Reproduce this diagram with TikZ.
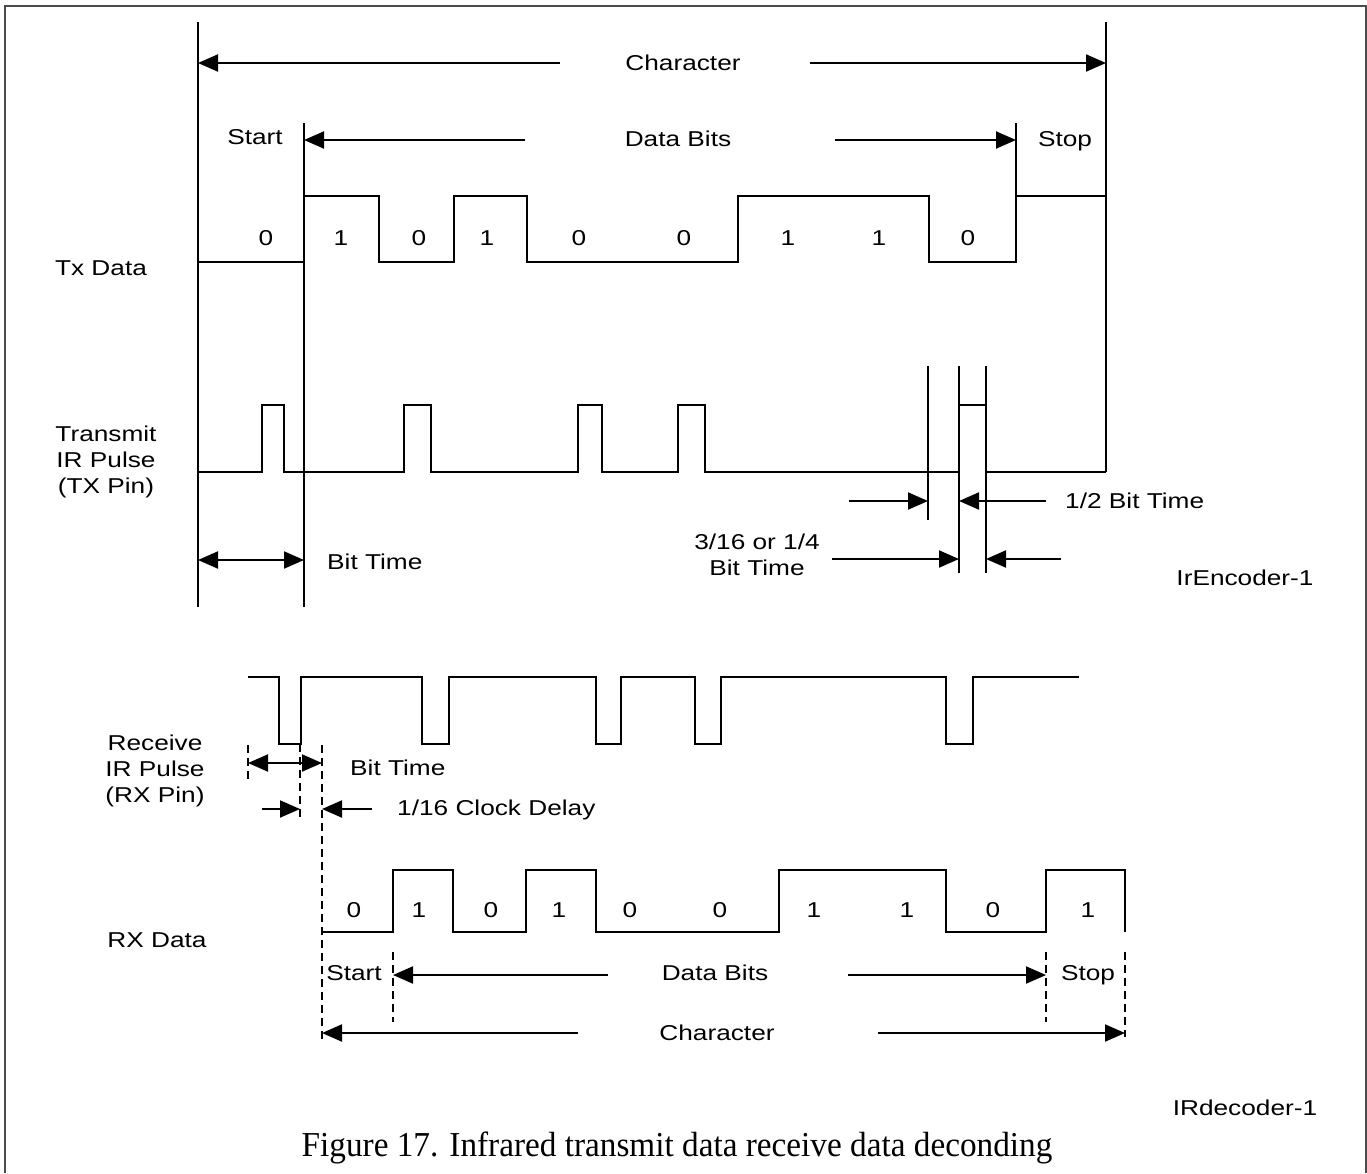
\documentclass[tikz,border=0pt]{standalone}
\usepackage{fontspec}
\setmainfont{Liberation Sans}[FakeStretch=1.22]
\newfontfamily\capfont{Liberation Serif}[FakeStretch=0.95]
\usetikzlibrary{arrows.meta}
\begin{document}
\begin{tikzpicture}[x=1pt,y=-1pt,
  wave/.style={line width=2.2pt,line join=miter},
  vline/.style={line width=2.4pt},
  dimline/.style={line width=2pt},
  dline/.style={line width=2pt,dash pattern=on 8pt off 5pt},
  lbl/.style={inner sep=0pt,font=\fontsize{21.5}{25}\selectfont},
  >={Triangle[length=20pt,width=17pt]}]
\useasboundingbox (0,0) rectangle (1367,1173);
% frame
\draw[line width=1.5pt,color=black!70] (5,1173)--(5,6)--(1366,6)--(1366,1173);

% ---------- Transmit part ----------
\draw[vline] (198,22)--(198,607);
\draw[vline] (304,123)--(304,607);
\draw[vline] (1106,22)--(1106,472);
\draw[vline] (1016,123)--(1016,262);

\node[lbl] (charT) at (683,63) {Character};
\draw[dimline,->] (560,63)--(198,63);
\draw[dimline,->] (810,63)--(1106,63);

\node[lbl] (startT) at (255,137) {Start};
\node[lbl] (dbT) at (678,139) {Data Bits};
\node[lbl] (stopT) at (1065,141) {Stop};
\draw[dimline,->] (525,140)--(304,140);
\draw[dimline,->] (835,140)--(1016,140);

% Tx data
\draw[wave] (198,262)--(304,262)--(304,196)--(379,196)--(379,262)--(454,262)--(454,196)--(527,196)--(527,262)--(738,262)--(738,196)--(929,196)--(929,262)--(1016,262)--(1016,196)--(1106,196);
\foreach \x/\b [count=\i] in {266/0,341/1,419/0,487/1,579/0,684/0,788/1,879/1,968/0}
  \node[lbl] (tb\i) at (\x,238) {\b};
\node[lbl] (txd) at (101,268) {Tx Data};

% Transmit IR pulse
\draw[wave] (198,472)--(262,472)--(262,405)--(284,405)--(284,472)--(404,472)--(404,405)--(431,405)--(431,472)--(578,472)--(578,405)--(602,405)--(602,472)--(678,472)--(678,405)--(705,405)--(705,472)--(959,472);
\draw[wave] (959,405)--(986,405);
\draw[wave] (986,472)--(1106,472);
\draw[dimline] (928,366)--(928,520);
\draw[vline] (959,366)--(959,573);
\draw[vline] (986,366)--(986,573);
\node[lbl,align=center] (txir) at (106,462) {Transmit\\[1pt]IR Pulse\\[1pt](TX Pin)};

\draw[dimline,<->] (198,560)--(304,560);
\node[lbl,anchor=west] (btT) at (327,562) {Bit Time};

\draw[dimline,->] (849,501)--(928,501);
\draw[dimline,->] (1046,501)--(959,501);
\node[lbl,anchor=west] (half) at (1065,501) {1/2 Bit Time};

\draw[dimline,->] (832,559)--(959,559);
\draw[dimline,->] (1061,559)--(986,559);
\node[lbl,align=center] (tsx) at (757,555) {3/16 or 1/4\\[1pt]Bit Time};

\node[lbl] (irenc) at (1245,578) {IrEncoder-1};

% ---------- Receive part ----------
\draw[wave] (248,677)--(279,677)--(279,744)--(301,744)--(301,677)--(422,677)--(422,744)--(449,744)--(449,677)--(596,677)--(596,744)--(621,744)--(621,677)--(695,677)--(695,744)--(721,744)--(721,677)--(946,677)--(946,744)--(973,744)--(973,677)--(1079,677);
\node[lbl,align=center] (rxir) at (155,771) {Receive\\[1pt]IR Pulse\\[1pt](RX Pin)};

\draw[dline] (248,745)--(248,782);
\draw[dline] (300,744)--(300,818);
\draw[dline] (322,745)--(322,1043);
\draw[dimline,<->] (248,763)--(322,763);
\node[lbl,anchor=west] (btR) at (350,768) {Bit Time};
\draw[dimline,->] (262,809)--(300,809);
\draw[dimline,->] (372,809)--(322,809);
\node[lbl,anchor=west] (clk) at (397,810) {1/16 Clock Delay};

% RX data
\draw[wave] (322,932)--(393,932)--(393,870)--(453,870)--(453,932)--(526,932)--(526,870)--(596,870)--(596,932)--(779,932)--(779,870)--(946,870)--(946,932)--(1046,932)--(1046,870)--(1125,870)--(1125,932);
\foreach \x/\b [count=\i] in {354/0,419/1,491/0,559/1,630/0,720/0,814/1,907/1,993/0,1088/1}
  \node[lbl] (rb\i) at (\x,910) {\b};
\node[lbl] (rxd) at (157,940) {RX Data};

\draw[dline] (393,952)--(393,1022);
\draw[dline] (1046,952)--(1046,1022);
\draw[dline] (1125,952)--(1125,1037);

\node[lbl] (startR) at (354,973) {Start};
\node[lbl] (dbR) at (715,973) {Data Bits};
\node[lbl] (stopR) at (1088,975) {Stop};
\draw[dimline,->] (608,975)--(393,975);
\draw[dimline,->] (848,975)--(1046,975);

\node[lbl] (charR) at (717,1033) {Character};
\draw[dimline,->] (578,1033)--(322,1033);
\draw[dimline,->] (878,1033)--(1125,1033);

\node[lbl] (irdec) at (1245,1108) {IRdecoder-1};
\node[inner sep=0pt,font=\capfont\fontsize{35}{39}\selectfont] (cap) at (677,1148) {Figure 17. Infrared transmit data receive data deconding};
\end{tikzpicture}
\end{document}
